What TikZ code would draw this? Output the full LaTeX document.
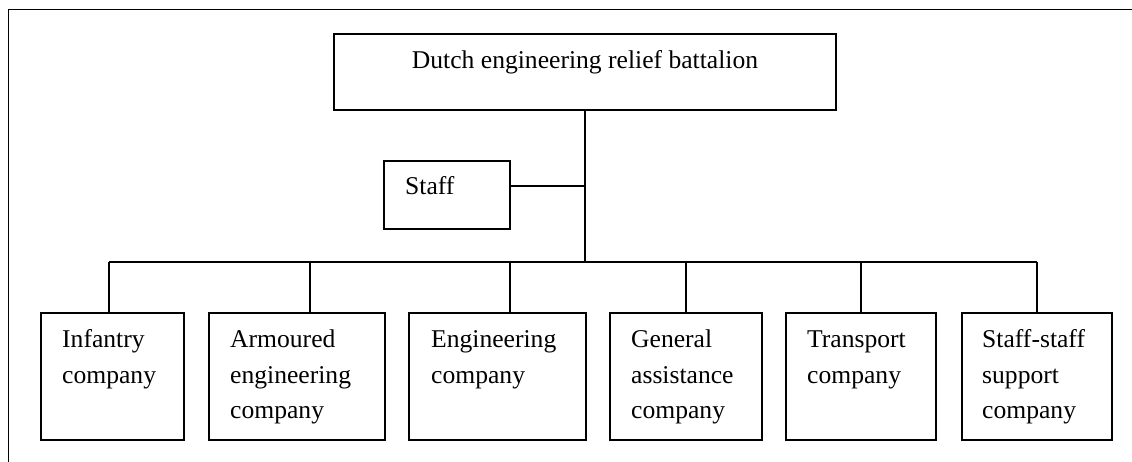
\documentclass[tikz,border=0pt]{standalone}
\usepackage{fontspec}
\setmainfont{Liberation Serif}
\begin{document}
\begin{tikzpicture}[x=1pt,y=-1pt,
  frame/.style={line width=1.8pt},
  unit/.style={draw, line width=1.5pt, rectangle, inner sep=0pt},
  link/.style={line width=1.5pt},
  caption/.style={anchor=base west, inner sep=0pt, font=\fontsize{25.6}{30}\selectfont}]
% unit box given by its corners: name, x1, y1, x2, y2
\newcommand\unitbox[5]{%
  \node[unit, minimum width={(#4-#2)*1pt}, minimum height={(#5-#3)*1pt}]
    (#1) at ({(#2+#4)/2},{(#3+#5)/2}) {};}
\useasboundingbox (0,0) rectangle (1132,462);

% page frame (top and left edges)
\draw[frame] (8.5,462) -- (8.5,9.5) -- (1132,9.5);

% battalion and staff
\unitbox{hq}{334}{34}{836}{110}
\node[caption, anchor=base] (hqtxt) at (585,69) {Dutch engineering relief battalion};
\unitbox{staff}{384}{161}{510}{229}
\node[caption] (stafftxt) at (405,195) {Staff};

% companies
\unitbox{c1}{41}{313}{184}{440}
\unitbox{c2}{209}{313}{385}{440}
\unitbox{c3}{409}{313}{586}{440}
\unitbox{c4}{610}{313}{762}{440}
\unitbox{c5}{786}{313}{936}{440}
\unitbox{c6}{962}{313}{1112}{440}

\node[caption] (c1a) at (62,347) {Infantry};
\node[caption] (c1b) at (62,383) {company};
\node[caption] (c2a) at (230,347) {Armoured};
\node[caption] (c2b) at (230,383) {engineering};
\node[caption] (c2c) at (230,418) {company};
\node[caption] (c3a) at (431,347) {Engineering};
\node[caption] (c3b) at (431,383) {company};
\node[caption] (c4a) at (631,347) {General};
\node[caption] (c4b) at (631,383) {assistance};
\node[caption] (c4c) at (631,418) {company};
\node[caption] (c5a) at (807,347) {Transport};
\node[caption] (c5b) at (807,383) {company};
\node[caption] (c6a) at (982,347) {Staff-staff};
\node[caption] (c6b) at (982,383) {support};
\node[caption] (c6c) at (982,418) {company};

% connector junctions
\coordinate (hub) at (585,186);
\coordinate (bus) at (585,262);
\coordinate (d1) at (109,262);
\coordinate (d2) at (310,262);
\coordinate (d3) at (510,262);
\coordinate (d4) at (686,262);
\coordinate (d5) at (861,262);
\coordinate (d6) at (1037,262);

\draw[link] (hq.south) -- (hub) -- (bus);
\draw[link] (staff.east |- hub) -- (hub);
\draw[link] (d1) -- (d6);
\foreach \k in {1,...,6}
  \draw[link] (d\k) -- (c\k.north -| d\k);
\end{tikzpicture}
\end{document}
